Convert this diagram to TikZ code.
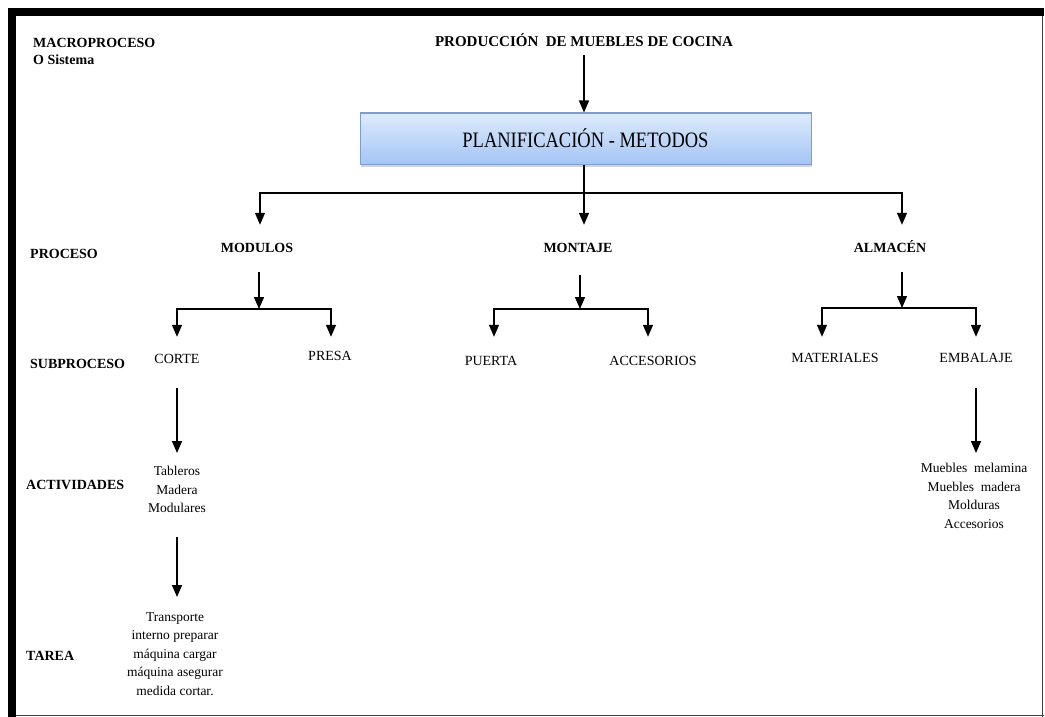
\documentclass[tikz,border=0pt]{standalone}
\usepackage{fontspec}
\setmainfont{Liberation Serif}
\newfontfamily\narrowserif[FakeStretch=0.84]{Liberation Serif}
\usetikzlibrary{arrows.meta,shadows}
\definecolor{boxtop}{RGB}{222,235,252}
\definecolor{boxbot}{RGB}{164,197,245}
\definecolor{boxline}{RGB}{126,156,205}
\begin{document}
\begin{tikzpicture}[x=1pt,y=-1pt,
  line/.style={line width=1.4pt,black},
  arr/.style={line,-{Triangle[length=12pt,width=10pt]}},
  side/.style={font=\fontsize{14}{16}\selectfont\bfseries,inner sep=0pt,anchor=base west},
  head/.style={font=\fontsize{14}{16}\selectfont\bfseries,inner sep=0pt,text height=10pt,text depth=0pt},
  lbl/.style={font=\fontsize{14}{16}\selectfont,inner sep=0pt,text height=10pt,text depth=0pt},
  blk/.style={font=\fontsize{13.5}{18.5}\selectfont,align=center,inner sep=0pt,anchor=north},
  planbox/.style={draw=boxline,line width=1pt,top color=boxtop,bottom color=boxbot,
    minimum width=451pt,minimum height=51pt,inner sep=0pt,
    drop shadow={opacity=0.35,shadow xshift=1pt,shadow yshift=-3pt},
    font=\fontsize{22}{24}\narrowserif}]
\useasboundingbox (0,0) rectangle (1045,717);

% page frame
\fill[black] (8,8) rectangle (16,717);
\fill[black] (8,8) rectangle (1044,16);
\draw[line width=1.5pt,black!75] (1042.5,16) -- (1042.5,717);
\draw[line width=1.5pt,black!75] (16,715.5) -- (1044,715.5);

% level names
\node[side] (lmacro) at (33,48) {MACROPROCESO};
\node[side] (lsis) at (33,65) {O Sistema};
\node[side] (lproc) at (30,258) {PROCESO};
\node[side] (lsub) at (30,368) {SUBPROCESO};
\node[side] (lact) at (26,489) {ACTIVIDADES};
\node[side] (ltar) at (26,660) {TAREA};

% top
\node[head,font=\fontsize{15}{17}\selectfont\bfseries] (prod) at (584,42) {PRODUCCIÓN\ \ DE MUEBLES DE COCINA};
\node[planbox] (plan) at (585.5,138.5) {PLANIFICACIÓN - METODOS};

% processes
\node[head] (mod) at (257,247) {MODULOS};
\node[head] (mon) at (578,247) {MONTAJE};
\node[head] (alm) at (890,247) {ALMACÉN};

% subprocesses
\node[lbl] (corte) at (177,358) {CORTE};
\node[lbl] (presa) at (330,355) {PRESA};
\node[lbl] (puerta) at (491,360) {PUERTA};
\node[lbl] (acc) at (653,360) {ACCESORIOS};
\node[lbl] (mat) at (835,357) {MATERIALES};
\node[lbl] (emb) at (976,357) {EMBALAJE};

% activities and tasks
\node[blk] (act) at (177,466) {Tableros\\Madera\\Modulares};
\node[blk] (tarea) at (175,612) {Transporte\\interno preparar\\máquina cargar\\máquina asegurar\\medida cortar.};
\node[blk] (mueb) at (974,463) {Muebles\ \ melamina\\Muebles\ \ madera\\Molduras\\Accesorios};

% connectors
\draw[arr] ([yshift=-8pt]prod.south) -- (plan.north -| prod.south);

\coordinate (ja) at (584,193);
\draw[line] (plan.south -| ja) -- (ja);
\draw[arr] (ja) -| ([xshift=3pt,yshift=17pt]mod.north);
\draw[arr] (ja) -- ([xshift=6pt,yshift=17pt]mon.north);
\draw[arr] (ja) -| ([xshift=12pt,yshift=17pt]alm.north);

\coordinate (jb) at (259,309);
\draw[arr] ([xshift=2pt,yshift=-20pt]mod.south) -- (jb);
\draw[arr] (jb) -| ([yshift=16pt]corte.north);
\draw[arr] (jb) -| ([xshift=1pt,yshift=13pt]presa.north);

\coordinate (jc) at (580,309);
\draw[arr] ([xshift=2pt,yshift=-23pt]mon.south) -- (jc);
\draw[arr] (jc) -| ([xshift=3pt,yshift=18pt]puerta.north);
\draw[arr] (jc) -| ([xshift=-5pt,yshift=18pt]acc.north);

\coordinate (jd) at (902,308);
\draw[arr] ([xshift=12pt,yshift=-20pt]alm.south) -- (jd);
\draw[arr] (jd) -| ([xshift=-13pt,yshift=15pt]mat.north);
\draw[arr] (jd) -| ([yshift=15pt]emb.north);

\draw[arr] ([yshift=-25pt]corte.south) -- ([yshift=13pt]act.north -| corte.south);
\draw[arr] ([yshift=-24pt]act.south) -- ([yshift=15pt]tarea.north -| act.south);
\draw[arr] ([yshift=-26pt]emb.south) -- ([yshift=10pt]mueb.north -| emb.south);
\end{tikzpicture}
\end{document}
